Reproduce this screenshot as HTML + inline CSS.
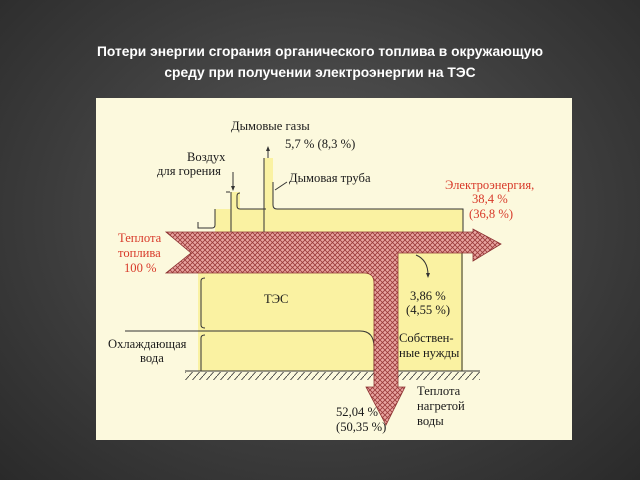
<!DOCTYPE html>
<html><head><meta charset="utf-8"><style>
html,body{margin:0;padding:0;}
body{width:640px;height:480px;overflow:hidden;background:radial-gradient(ellipse at 50% 45%,#5a5a5a 0%,#3c3c3c 60%,#2a2a2a 100%);position:relative;font-family:"Liberation Sans",sans-serif;}
.title{position:absolute;left:0;width:640px;top:41px;text-align:center;color:#fff;font-weight:bold;font-size:13.8px;line-height:21px;}
svg{position:absolute;left:0;top:0;}
</style></head><body>
<div class="title">Потери энергии сгорания органического топлива в окружающую<br>среду при получении электроэнергии на ТЭС</div>
<svg width="640" height="480" font-family="Liberation Serif, serif" font-size="12.6">
<defs>
<pattern id="h" width="5" height="5" patternUnits="userSpaceOnUse">
<rect width="5" height="5" fill="#e8a4a0"/>
<path d="M0 0L5 5M5 0L0 5" stroke="#9a3a3a" stroke-width="0.8"/>
</pattern>
<pattern id="g" width="7" height="8" patternUnits="userSpaceOnUse">
<path d="M7 0L0 8" stroke="#333" stroke-width="0.8"/>
</pattern>
</defs>
<rect x="96" y="98" width="476" height="342" fill="#fcf9dd"/>
<g fill="#faf2a2">
<rect x="215" y="209" width="248" height="24"/>
<rect x="231" y="192" width="9" height="20"/>
<rect x="264" y="158" width="9" height="55"/>
<rect x="198" y="273" width="265" height="98"/>
<rect x="398" y="253" width="65" height="118"/>
</g>
<g stroke="#333" stroke-width="1" fill="none">
<path d="M264 158V232M273 182V205q0 4 4 4H463V232"/>
<path d="M231 192V232M240 193q-3 0-3 3V206q0 3 3 3h26"/>
<path d="M226 192h4M215 209V225q0 3-3 3H198v-6"/>
<path d="M205 278q-4 0-4 3V325q0 3 4 3M205 335q-4 0-4 3V371"/>
<path d="M125 331H360q14 0 14 16V371"/>
<path d="M462 253V371"/>
<path d="M185 371H480"/>
<path d="M233 172V190" /><path d="M268 158V150"/>
<path d="M275 190l12-8"/>
<path d="M416 255q12 5 12 20"/>
</g>
<path d="M233 191l-2-5h4z M268 146l-2 5h4z M428 278l-2-5h4z" fill="#333"/>
<rect x="185" y="372" width="295" height="8" fill="url(#g)"/>
<rect x="375" y="372" width="23" height="8" fill="#fcf9dd"/>
<path d="M166 232H473V229L501 244L473 261V253H398V387H405L386 425L366 387H374V283Q374 273 364 273H166L191 253Z" fill="url(#h)" stroke="#8a3030" stroke-width="0.8"/>
<g fill="#1a1a1a">
<text x="231" y="130">Дымовые газы</text>
<text x="285" y="148">5,7 % (8,3 %)</text>
<text x="187" y="161">Воздух</text>
<text x="157" y="175">для горения</text>
<text x="289" y="182">Дымовая труба</text>
<text x="264" y="303">ТЭС</text>
<text x="410" y="300">3,86 %</text>
<text x="406" y="314">(4,55 %)</text>
<text x="108" y="348">Охлаждающая</text>
<text x="140" y="362">вода</text>
<text x="399" y="342">Собствен-</text>
<text x="399" y="357">ные нужды</text>
<text x="417" y="395">Теплота</text>
<text x="417" y="410">нагретой</text>
<text x="417" y="425">воды</text>
<text x="336" y="416">52,04 %</text>
<text x="336" y="431">(50,35 %)</text>
</g>
<g fill="#d83a2a">
<text x="445" y="189">Электроэнергия,</text>
<text x="472" y="203">38,4 %</text>
<text x="469" y="218">(36,8 %)</text>
<text x="118" y="242">Теплота</text>
<text x="118" y="257">топлива</text>
<text x="124" y="272">100 %</text>
</g>
</svg>
</body></html>
